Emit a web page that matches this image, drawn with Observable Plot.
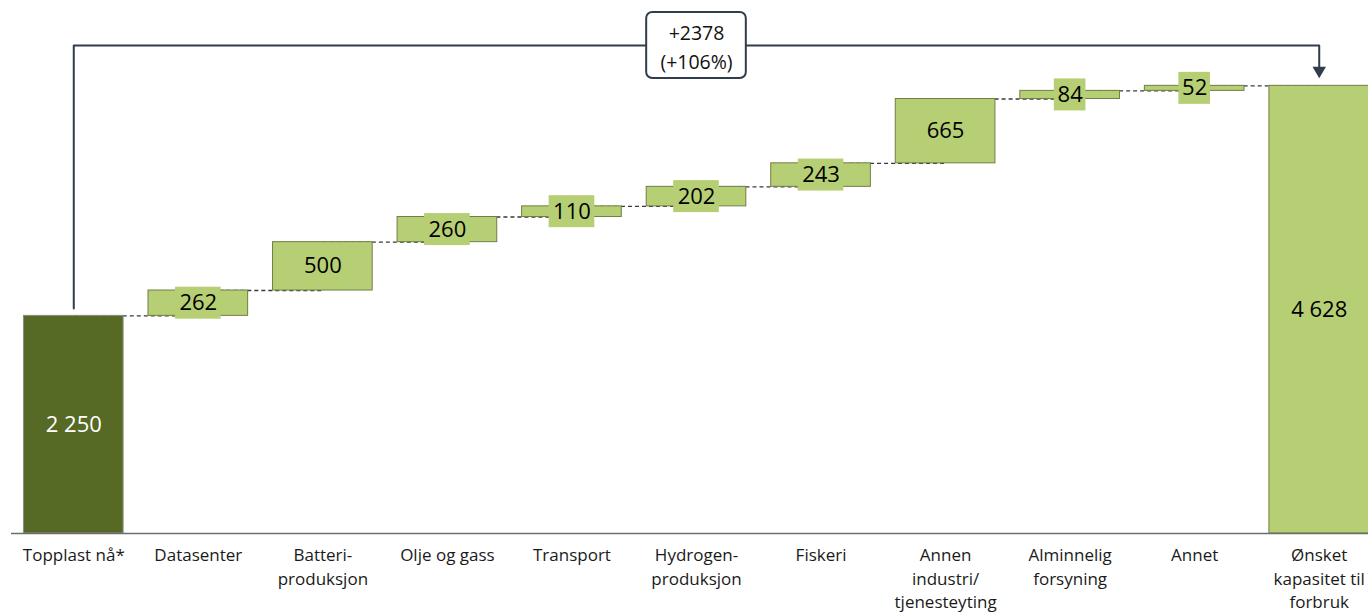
<!DOCTYPE html>
<html>
<head>
<meta charset="utf-8">
<script src="https://cdn.jsdelivr.net/npm/d3@7"></script>
<script src="https://cdn.jsdelivr.net/npm/@observablehq/plot@0.6"></script>
<style>
  html, body { margin: 0; padding: 0; background: #fff; overflow: hidden; }
  #chart svg { display: block; }
</style>
</head>
<body>
<div id="chart"></div>
<script>
// ---- data ----
const categories = [
  "Topplast nå*", "Datasenter", "Batteri-\nproduksjon", "Olje og gass", "Transport",
  "Hydrogen-\nproduksjon", "Fiskeri", "Annen\nindustri/\ntjenesteyting",
  "Alminnelig\nforsyning", "Annet", "Ønsket\nkapasitet til\nforbruk"
];
const values = [2250, 262, 500, 260, 110, 202, 243, 665, 84, 52, 4628];
const kinds = ["start", "step", "step", "step", "step", "step", "step", "step", "step", "step", "total"];
const valueLabels = ["2 250", "262", "500", "260", "110", "202", "243", "665", "84", "52", "4 628"];

// annotation levels (data units)
const bracketLevel = 5045;
const bracketStartGap = 76;
const arrowEndLevel = 4807;
const arrowHeadLevel = 4786;
const boxBottom = 4704;
const boxTop = 5386;

// ---- build rows ----
let run = 0;
const rows = categories.map((c, i) => {
  let y1, y2;
  if (kinds[i] === "step") { y1 = run; y2 = run + values[i]; run = y2; }
  else { y1 = 0; y2 = values[i]; run = values[i]; }
  return {cat: c, y1, y2, mid: (y1 + y2) / 2, kind: kinds[i], label: valueLabels[i]};
});
const connectors = rows.slice(0, -1).map((r, i) => ({x1: r.cat, x2: rows[i + 1].cat, y: r.y2}));

const first = categories[0], last = categories[categories.length - 1];
const change = values[values.length - 1] - values[0];
const pct = Math.round(change / values[0] * 100);
const annoText = `+${change}\n(+${pct}%)`;
const bracket = [
  {x: first, y: values[0] + bracketStartGap},
  {x: first, y: bracketLevel},
  {x: last, y: bracketLevel},
  {x: last, y: arrowEndLevel}
];

const light = "#b7cf74", dark = "#566a26", navy = "#313c4c";
const font = "'Open Sans', Lato, sans-serif";

const chart = Plot.plot({
  width: 1368,
  height: 612,
  marginLeft: 11,
  marginRight: -13,
  marginTop: 1,
  marginBottom: 79,
  x: {domain: categories, paddingInner: 0.2, paddingOuter: 0.1, round: false, axis: null},
  y: {domain: [0, 5500], axis: null},
  style: {fontFamily: font, fontSize: "16px", background: "#fff", color: "#1a1a1a"},
  marks: [
    Plot.link(connectors, {x1: "x1", x2: "x2", y1: "y", y2: "y", stroke: "#3a3a3a", strokeWidth: 1.4, strokeDasharray: "4,3"}),
    Plot.barY(rows, {x: "cat", y1: "y1", y2: "y2",
      fill: d => d.kind === "start" ? dark : light,
      stroke: d => d.kind === "start" ? "#8a8f80" : "#6f7f45", strokeWidth: 1}),
    // label boxes
    Plot.barY(rows.filter(d => d.kind === "step" && d.label.length === 3), {x: "cat", y1: "mid", y2: "mid",
      insetTop: -16, insetBottom: -16, insetLeft: 27, insetRight: 27, fill: light}),
    Plot.barY(rows.filter(d => d.kind === "step" && d.label.length === 2), {x: "cat", y1: "mid", y2: "mid",
      insetTop: -16, insetBottom: -16, insetLeft: 34, insetRight: 34, fill: light}),
    Plot.text(rows, {x: "cat", y: "mid", text: "label", fontSize: 22,
      fill: d => d.kind === "start" ? "#ffffff" : "#000000"}),
    // axis line
    Plot.ruleY([0], {stroke: "#6e6e6e", strokeWidth: 1.5}),
    // category labels
    Plot.text(categories, {x: d => d, y: 0, text: d => d, lineAnchor: "top", dy: 11, lineHeight: 1.38,
      fontSize: 17, fill: "#1a1a1a"}),
    // bracket annotation
    Plot.line(bracket, {x: "x", y: "y", stroke: navy, strokeWidth: 2}),
    Plot.dot([{x: last, y: arrowHeadLevel}], {x: "x", y: "y", symbol: "triangle", r: 5, rotate: 180, fill: navy, stroke: "none"}),
    Plot.barY([{x: categories[5]}], {x: "x", y1: () => boxBottom, y2: () => boxTop, fill: "#fff", stroke: navy, strokeWidth: 2, rx: 6}),
    Plot.text([{x: categories[5], t: annoText}], {x: "x", y: () => bracketLevel, text: "t", fontSize: 19.5, lineHeight: 1.5, fill: "#111"})
  ]
});
document.getElementById("chart").append(chart);
</script>
</body>
</html>
